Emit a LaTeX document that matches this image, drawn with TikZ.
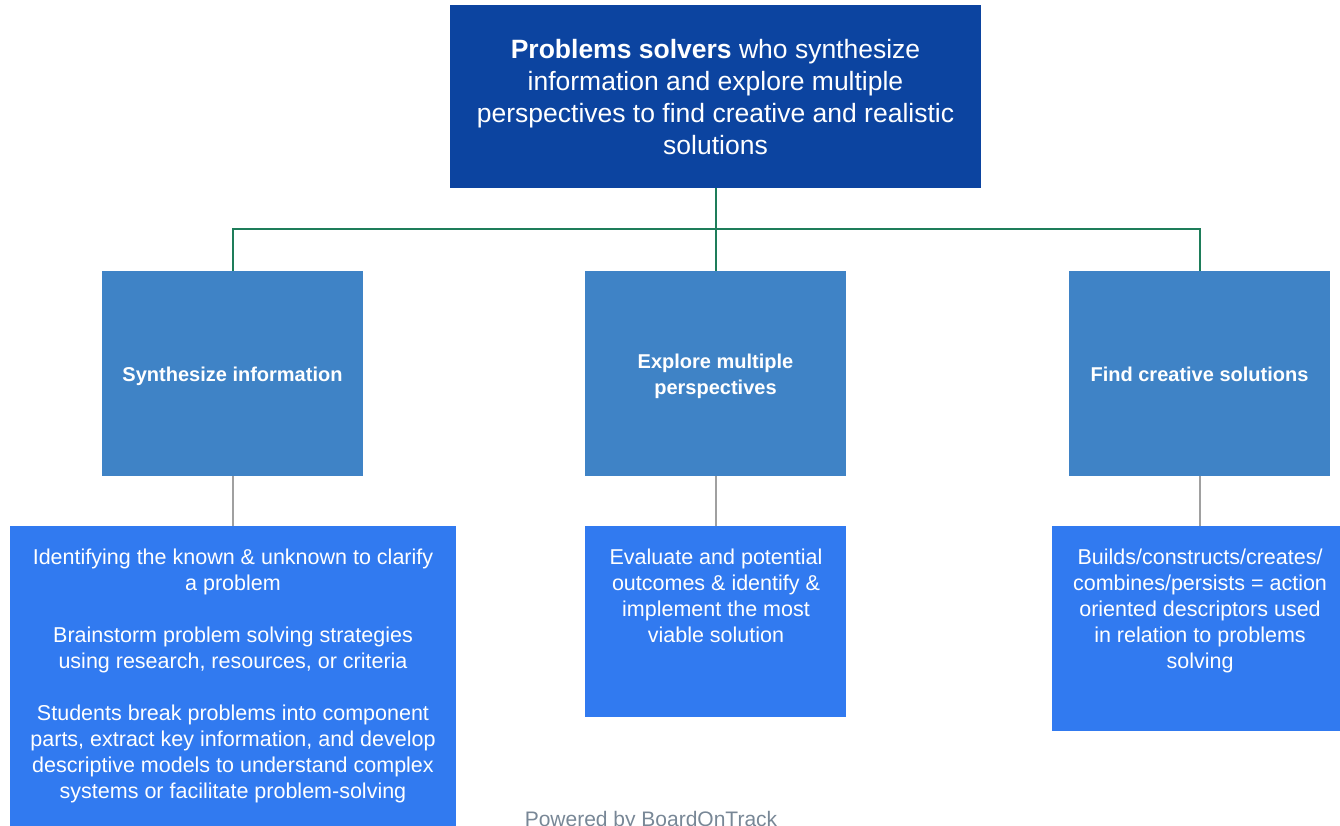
\documentclass[tikz,border=0pt]{standalone}
\usepackage{fontspec}
\setmainfont{Liberation Sans}
\definecolor{topblue}{RGB}{12,68,160}
\definecolor{midblue}{RGB}{63,131,198}
\definecolor{lowblue}{RGB}{49,122,240}
\definecolor{conngreen}{RGB}{30,125,90}
\definecolor{conngray}{RGB}{160,160,160}
\definecolor{footgray}{RGB}{120,135,150}
\begin{document}
\begin{tikzpicture}[x=1pt,y=-1pt,
  boxbase/.style={draw=none,inner sep=0pt,outer sep=0pt,rectangle},
  topbox/.style={boxbase,fill=topblue},
  midbox/.style={boxbase,fill=midblue},
  lowbox/.style={boxbase,fill=lowblue},
  toptext/.style={text=white,align=center,inner sep=0pt,font=\fontsize{26.5}{32}\selectfont},
  midtext/.style={text=white,align=center,inner sep=0pt,font=\bfseries\fontsize{20}{26}\selectfont},
  lowtext/.style={text=white,align=center,inner sep=0pt,anchor=north,font=\fontsize{21.5}{26}\selectfont},
  greenline/.style={draw=conngreen,line width=2pt},
  grayline/.style={draw=conngray,line width=2pt}]
\useasboundingbox (0,0) rectangle (1340,825);
\begin{scope}
\clip (0,0) rectangle (1340,825);
% boxes
\node[topbox,minimum width=531,minimum height=183] (top) at (715.5,96.5) {};
\node[midbox,minimum width=261,minimum height=205] (m1) at (232.5,373.5) {};
\node[midbox,minimum width=261,minimum height=205] (m2) at (715.5,373.5) {};
\node[midbox,minimum width=261,minimum height=205] (m3) at (1199.5,373.5) {};
\node[lowbox,minimum width=446,minimum height=310] (b1) at (233,681) {};
\node[lowbox,minimum width=261,minimum height=191] (b2) at (715.5,621.5) {};
\node[lowbox,minimum width=288,minimum height=205] (b3) at (1196,628.5) {};
% connectors
\coordinate (j) at (716,229);
\draw[greenline] (top.south) -- (m2.north);
\draw[greenline] (m1.north) -- (m1.north |- j) -- (m3.north |- j) -- (m3.north);
\draw[grayline] (m1.south) -- (m1.south |- b1.north);
\draw[grayline] (m2.south) -- (m2.south |- b2.north);
\draw[grayline] (m3.south) -- (m3.south |- b3.north);
% texts
\node[toptext] (toplabel) at (715.5,97) {\textbf{Problems solvers} who synthesize\\information and explore multiple\\perspectives to find creative and realistic\\solutions};
\node[midtext] (m1label) at (232.5,376) {Synthesize information};
\node[midtext] (m2label) at (715.5,376) {Explore multiple\\perspectives};
\node[midtext] (m3label) at (1199.5,374.5) {Find creative solutions};
\node[lowtext] (b1label) at (233,549) {Identifying the known \& unknown to clarify\\a problem\\[26pt]Brainstorm problem solving strategies\\using research, resources, or criteria\\[26pt]Students break problems into component\\parts, extract key information, and develop\\descriptive models to understand complex\\systems or facilitate problem-solving};
\node[lowtext] (b2label) at (716,549) {Evaluate and potential\\outcomes \& identify \&\\implement the most\\viable solution};
\node[lowtext] (b3label) at (1200,549) {Builds/constructs/creates/\\combines/persists = action\\oriented descriptors used\\in relation to problems\\solving};
\node[text=footgray,inner sep=0pt,anchor=base,font=\fontsize{21}{24}\selectfont] (footer) at (651,826) {Powered by BoardOnTrack};
\end{scope}
\end{tikzpicture}
\end{document}
